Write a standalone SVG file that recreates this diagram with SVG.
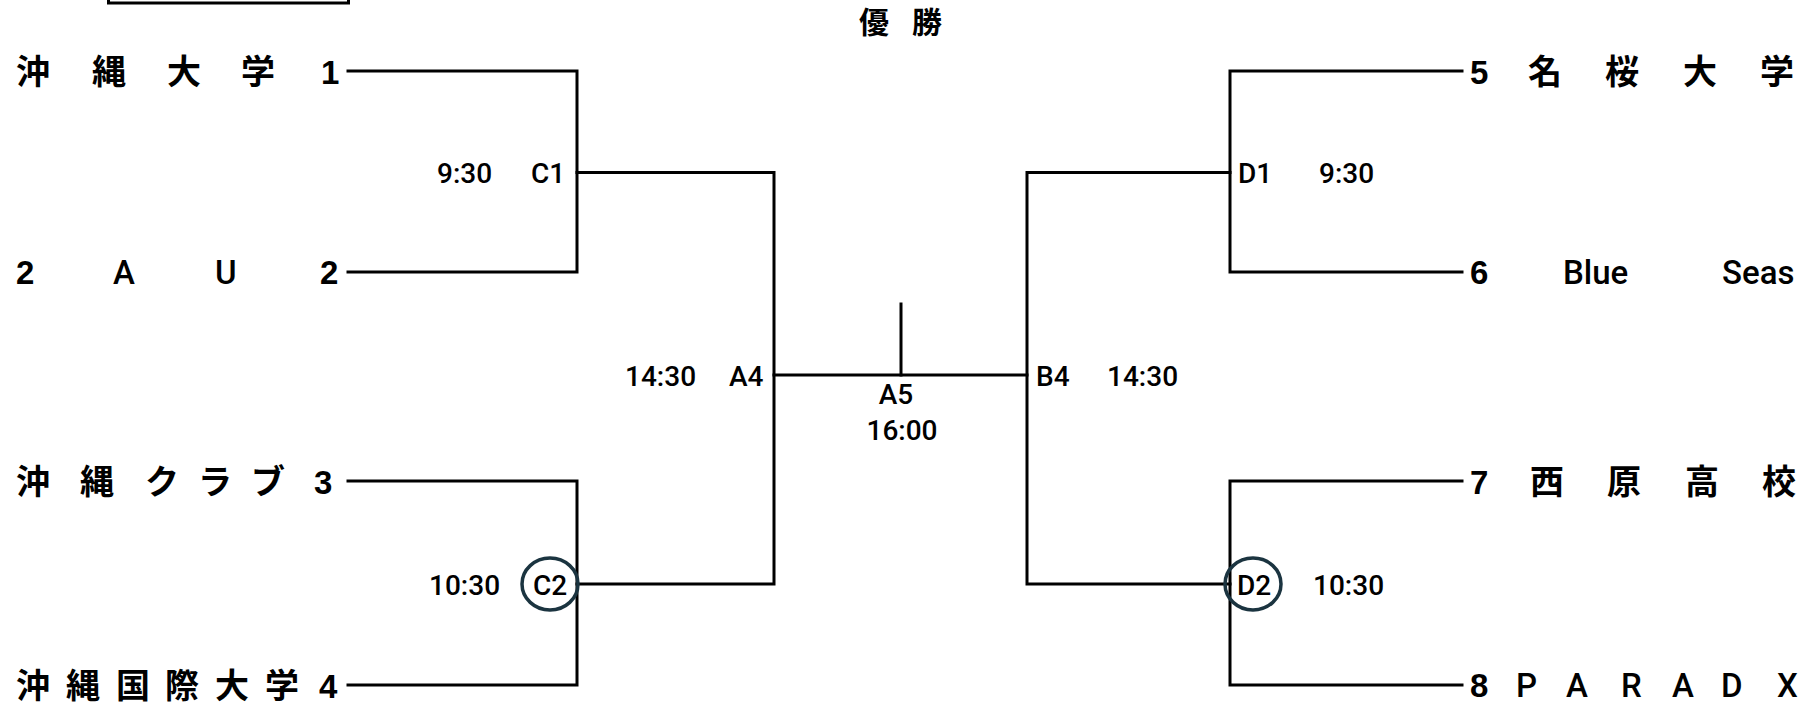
<svg xmlns="http://www.w3.org/2000/svg" width="1816" height="707" viewBox="0 0 1816 707">
<style>
.bg{fill:#ffffff}
.ln{stroke:#000;stroke-width:3;fill:none;stroke-linecap:square}
.team{font-family:"Liberation Sans","Noto Sans CJK JP",sans-serif;font-size:34px;font-weight:bold;fill:#000}
.lat{font-family:Roboto,"Liberation Sans",sans-serif;font-weight:500;font-size:33px}
.dg{font-size:33px}
.lbl{font-family:Roboto,"Liberation Sans",sans-serif;font-size:28px;font-weight:500;fill:#000}
.title{font-family:"Noto Sans CJK JP",sans-serif;font-size:30px;font-weight:bold;fill:#000}
.ring{fill:none;stroke:#1b3440;stroke-width:3.5}
</style>
<rect class="bg" x="0" y="0" width="1816" height="707"/>
<g id="title-box"><rect class="ln" x="108.5" y="-30" width="240" height="33"/></g>
<g id="champion"><text class="title" x="859 912" y="33">優勝</text></g>

<g id="connectors">
<path class="ln" d="M348 71H577V272H348"/>
<path class="ln" d="M348 481H577V685H348"/>
<path class="ln" d="M577 172.5H774V584H577"/>
<path class="ln" d="M1462 71H1230V272H1462"/>
<path class="ln" d="M1462 481H1230V685H1462"/>
<path class="ln" d="M1230 172.5H1027V584H1230"/>
<path class="ln" d="M774 375H1027"/>
<path class="ln" d="M901 304V375"/>
</g>

<g id="team-1"><text class="team" y="84"><tspan x="16">沖</tspan><tspan x="92">縄</tspan><tspan x="167">大</tspan><tspan x="241">学</tspan><tspan class="dg" x="321">1</tspan></text></g>
<g id="team-2"><text class="team" y="284"><tspan class="dg" x="16">2</tspan><tspan class="lat" x="113">A</tspan><tspan class="lat" x="215">U</tspan><tspan class="dg" x="320">2</tspan></text></g>
<g id="team-3"><text class="team" y="494"><tspan x="16">沖</tspan><tspan x="80">縄</tspan><tspan x="145">ク</tspan><tspan x="198">ラ</tspan><tspan x="251">ブ</tspan><tspan class="dg" x="314">3</tspan></text></g>
<g id="team-4"><text class="team" y="698"><tspan x="16">沖</tspan><tspan x="66">縄</tspan><tspan x="116">国</tspan><tspan x="165">際</tspan><tspan x="215">大</tspan><tspan x="265">学</tspan><tspan class="dg" x="319">4</tspan></text></g>
<g id="team-5"><text class="team" y="84"><tspan class="dg" x="1470">5</tspan><tspan x="1528">名</tspan><tspan x="1605">桜</tspan><tspan x="1683">大</tspan><tspan x="1760">学</tspan></text></g>
<g id="team-6"><text class="team" y="284"><tspan class="dg" x="1470">6</tspan><tspan class="lat" x="1563">Blue</tspan><tspan class="lat" x="1722">Seas</tspan></text></g>
<g id="team-7"><text class="team" y="494"><tspan class="dg" x="1470">7</tspan><tspan x="1530">西</tspan><tspan x="1607">原</tspan><tspan x="1685">高</tspan><tspan x="1762">校</tspan></text></g>
<g id="team-8"><text class="team" y="697"><tspan class="dg" x="1470">8</tspan><tspan class="lat" x="1516">P</tspan><tspan class="lat" x="1566">A</tspan><tspan class="lat" x="1621">R</tspan><tspan class="lat" x="1672">A</tspan><tspan class="lat" x="1721">D</tspan><tspan class="lat" x="1777">X</tspan></text></g>

<g id="match-C1"><text class="lbl" x="437" y="183">9:30</text><text class="lbl" x="531" y="183">C1</text></g>
<g id="match-C2"><ellipse class="ring" cx="550" cy="584" rx="28" ry="26"/><text class="lbl" x="429" y="595">10:30</text><text class="lbl" x="533" y="595">C2</text></g>
<g id="match-D1"><text class="lbl" x="1238" y="183">D1</text><text class="lbl" x="1319" y="183">9:30</text></g>
<g id="match-D2"><ellipse class="ring" cx="1253" cy="584" rx="28" ry="26"/><text class="lbl" x="1237" y="595">D2</text><text class="lbl" x="1313" y="595">10:30</text></g>
<g id="match-A4"><text class="lbl" x="625" y="386">14:30</text><text class="lbl" x="729" y="386">A4</text></g>
<g id="match-B4"><text class="lbl" x="1036" y="386">B4</text><text class="lbl" x="1107" y="386">14:30</text></g>
<g id="match-A5"><text class="lbl" x="896" y="404" text-anchor="middle">A5</text><text class="lbl" x="902" y="440" text-anchor="middle">16:00</text></g>
</svg>
